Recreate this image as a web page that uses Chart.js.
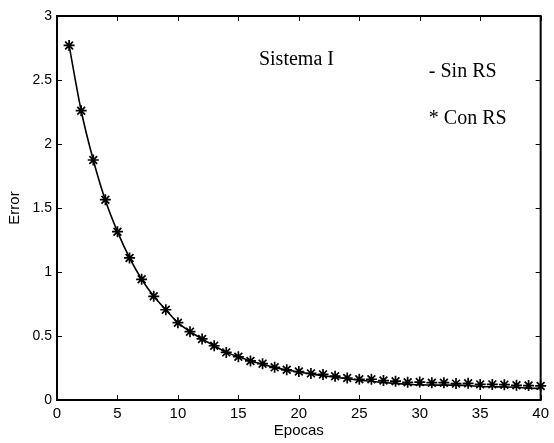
<!DOCTYPE html>
<html>
<head>
<meta charset="utf-8">
<script src="https://cdn.jsdelivr.net/npm/chart.js@4/dist/chart.umd.min.js"></script>
<style>
  html, body { margin: 0; padding: 0; background: #ffffff; }
  #c { display: block; }
</style>
</head>
<body>
<canvas id="c" width="554" height="443"></canvas>
<script>
const epochs = [1, 2, 3, 4, 5, 6, 7, 8, 9, 10, 11, 12, 13, 14, 15, 16, 17, 18, 19, 20,
                21, 22, 23, 24, 25, 26, 27, 28, 29, 30, 31, 32, 33, 34, 35, 36, 37, 38, 39, 40];
const sinRS = [2.77, 2.26, 1.875, 1.56, 1.315, 1.11, 0.943, 0.81, 0.705, 0.604,
               0.534, 0.477, 0.424, 0.372, 0.338, 0.305, 0.28, 0.255, 0.234, 0.218,
               0.203, 0.19, 0.178, 0.166, 0.155, 0.146, 0.137, 0.13, 0.123, 0.118,
               0.117, 0.116, 0.116, 0.113, 0.105, 0.103, 0.102, 0.1, 0.092, 0.09];
const conRS = [2.77, 2.26, 1.875, 1.565, 1.315, 1.11, 0.943, 0.81, 0.705, 0.604,
               0.534, 0.477, 0.424, 0.372, 0.338, 0.305, 0.284, 0.255, 0.236, 0.222,
               0.208, 0.2, 0.186, 0.172, 0.162, 0.162, 0.152, 0.147, 0.138, 0.14,
               0.135, 0.135, 0.128, 0.13, 0.122, 0.122, 0.12, 0.115, 0.113, 0.11];
const xTicks = [0, 5, 10, 15, 20, 25, 30, 35, 40];
const yTicks = [0, 0.5, 1, 1.5, 2, 2.5, 3];
const xTitle = 'Epocas';
const yTitle = 'Error';
const notes = [
  { text: 'Sistema I', x: 16.7, y: 2.62 },
  { text: '- Sin RS', x: 30.75, y: 2.525 },
  { text: '* Con RS', x: 30.75, y: 2.155 }
];

const sansFont = '"Liberation Sans", Arial, sans-serif';
const serifFont = '"Liberation Serif", "Times New Roman", serif';

const boxPlugin = {
  id: 'box',
  beforeDraw(chart) {
    const ctx = chart.ctx;
    ctx.save();
    ctx.fillStyle = '#ffffff';
    ctx.fillRect(0, 0, chart.width, chart.height);
    ctx.restore();
  },
  afterDraw(chart) {
    const ctx = chart.ctx;
    const a = chart.chartArea;
    const xs = chart.scales.x, ys = chart.scales.y;
    ctx.save();
    ctx.strokeStyle = '#000000';
    ctx.lineWidth = 1;
    const tl = 5;
    ctx.beginPath();
    xTicks.forEach(v => {
      const px = Math.round(xs.getPixelForValue(v)) + 0.5;
      ctx.moveTo(px, a.bottom); ctx.lineTo(px, a.bottom - tl);
      ctx.moveTo(px, a.top); ctx.lineTo(px, a.top + tl);
    });
    yTicks.forEach(v => {
      const py = Math.round(ys.getPixelForValue(v)) + 0.5;
      ctx.moveTo(a.left, py); ctx.lineTo(a.left + tl, py);
      ctx.moveTo(a.right, py); ctx.lineTo(a.right - tl, py);
    });
    ctx.stroke();
    ctx.lineWidth = 2;
    ctx.strokeRect(a.left, a.top, a.right - a.left, a.bottom - a.top);
    ctx.fillStyle = '#000000';
    ctx.font = '20px ' + serifFont;
    ctx.textAlign = 'left';
    ctx.textBaseline = 'alphabetic';
    notes.forEach(n => {
      ctx.fillText(n.text, xs.getPixelForValue(n.x), ys.getPixelForValue(n.y));
    });
    ctx.restore();
  }
};

new Chart(document.getElementById('c'), {
  type: 'line',
  data: {
    datasets: [
      {
        label: 'Sin RS',
        data: epochs.map((e, i) => ({ x: e, y: sinRS[i] })),
        borderColor: '#000000',
        borderWidth: 1.6,
        pointRadius: 0,
        tension: 0.3,
        fill: false
      },
      {
        label: 'Con RS',
        data: epochs.map((e, i) => ({ x: e, y: conRS[i] })),
        showLine: false,
        pointStyle: 'star',
        pointRadius: 5.5,
        pointBorderWidth: 1.7,
        pointBorderColor: '#000000',
        pointBackgroundColor: '#000000',
        borderColor: '#000000',
        clip: false
      }
    ]
  },
  options: {
    responsive: false,
    animation: false,
    events: [],
    layout: { padding: { left: 0, right: 9, top: 16, bottom: 0 } },
    plugins: { legend: { display: false }, tooltip: { enabled: false } },
    scales: {
      x: {
        type: 'linear',
        min: 0, max: 40,
        afterFit(s) { s.height = 43; },
        afterBuildTicks(s) { s.ticks = xTicks.map(v => ({ value: v })); },
        grid: { display: false, drawTicks: false },
        border: { display: false },
        ticks: { color: '#000000', padding: 5, font: { family: sansFont, size: 15 }, maxRotation: 0, callback: v => String(v) },
        title: { display: true, text: xTitle, color: '#000000', font: { family: sansFont, size: 15 }, padding: { top: 0, bottom: 3 } }
      },
      y: {
        type: 'linear',
        min: 0, max: 3,
        afterFit(s) { s.width = 57; },
        afterBuildTicks(s) { s.ticks = yTicks.map(v => ({ value: v })); },
        grid: { display: false, drawTicks: false },
        border: { display: false },
        ticks: { color: '#000000', padding: 5, font: { family: sansFont, size: 14 }, callback: v => String(v) },
        title: { display: true, text: yTitle, color: '#000000', font: { family: sansFont, size: 15 }, padding: { top: 6, bottom: 0 } }
      }
    }
  },
  plugins: [boxPlugin]
});
</script>
</body>
</html>
